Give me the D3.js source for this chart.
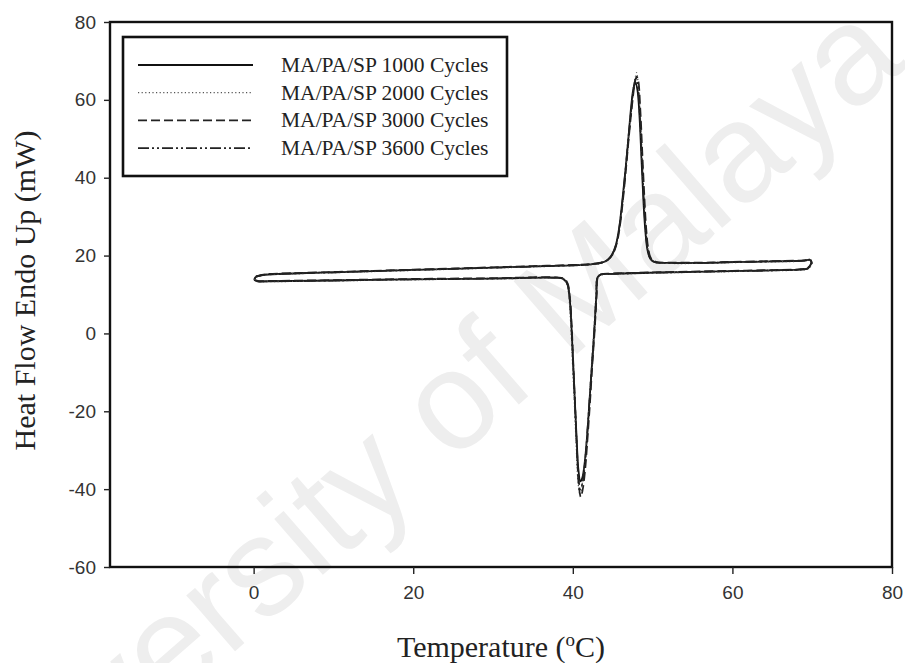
<!DOCTYPE html>
<html>
<head>
<meta charset="utf-8">
<script src="https://cdn.jsdelivr.net/npm/d3@7"></script>
<style>
  body { margin: 0; background: #fff; }
  svg { display: block; }
</style>
</head>
<body>
<svg id="chart" width="905" height="663"></svg>
<script>
// tick values
const xTicks = [0, 20, 40, 60, 80];
const yTicks = [-60, -40, -20, 0, 20, 40, 60, 80];

// series names
const seriesNames = [
  'MA/PA/SP 1000 Cycles',
  'MA/PA/SP 2000 Cycles',
  'MA/PA/SP 3000 Cycles',
  'MA/PA/SP 3600 Cycles'
];

// each loop: heating 0 -> 70 C, then cooling 70 -> 0 C  [temperature, heat flow mW]
const cycles1000 = [
  [0.3,14.6],[1.5,15.1],[5,15.4],[10,15.7],[15,16.0],[20,16.3],[25,16.6],[30,16.9],[35,17.2],[40,17.5],
  [42,17.7],[43.5,18.1],[44.3,18.8],[44.9,20.2],[45.4,22.8],[45.8,27],[46.2,34],[46.6,42],[47.0,51],
  [47.3,58],[47.6,63],[47.85,64.5],[48.1,62.5],[48.35,56],[48.6,45],[48.85,34],[49.1,26],[49.35,21.5],
  [49.7,19.2],[50.3,18.3],[52,18.1],[56,18.1],[60,18.3],[65,18.5],[69,18.7],[69.7,18.9],[69.9,18.2],
  [69.4,16.7],[68.5,16.4],[65,16.2],[60,16.0],[55,15.8],[50,15.6],[45,15.3],[43.5,15.1],[43.1,14.4],
  [42.95,10],[42.7,1],[42.4,-8],[42.1,-17],[41.8,-26],[41.5,-33],[41.2,-37],[40.95,-38],[40.7,-35],
  [40.5,-28],[40.25,-17],[40.0,-6],[39.8,3],[39.6,9],[39.3,12.8],[38.8,14.0],[38,14.3],[30,14.1],
  [20,13.9],[10,13.6],[2,13.4],[0.5,13.4],[0.1,13.8],[0.3,14.6]
];
const cycles2000 = [
  [0.3,14.5],[1.5,15.0],[5,15.3],[10,15.6],[15,15.9],[20,16.2],[25,16.5],[30,16.8],[35,17.1],[40,17.4],
  [42,17.6],[43.5,18.0],[44.3,18.7],[44.9,20.0],[45.4,22.5],[45.8,26.5],[46.2,33],[46.6,41],[47.0,50],
  [47.3,57],[47.6,63],[47.85,66],[48.0,67],[48.2,64],[48.45,56],[48.7,45],[48.95,34],[49.2,26],[49.45,21.3],
  [49.8,19.1],[50.4,18.2],[52,18.0],[56,18.0],[60,18.2],[65,18.4],[69,18.6],[69.8,18.9],[70.0,18.1],
  [69.5,16.6],[68.5,16.3],[65,16.1],[60,15.9],[55,15.7],[50,15.5],[45,15.2],[43.5,15.0],[43.05,14.2],
  [42.9,10],[42.65,1],[42.35,-8],[42.05,-18],[41.75,-27],[41.45,-34],[41.15,-39],[40.9,-41.5],[40.65,-38],
  [40.45,-30],[40.2,-18],[39.95,-7],[39.75,2],[39.55,8.5],[39.25,12.6],[38.8,13.9],[38,14.2],[30,14.0],
  [20,13.8],[10,13.5],[2,13.3],[0.5,13.3],[0.1,13.7],[0.3,14.5]
];
const cycles3000 = [
  [0.3,14.7],[1.5,15.2],[5,15.5],[10,15.8],[15,16.1],[20,16.4],[25,16.7],[30,17.0],[35,17.3],[40,17.6],
  [42,17.8],[43.5,18.2],[44.4,18.9],[45.0,20.3],[45.5,23],[45.9,27.5],[46.3,34.5],[46.7,43],[47.1,52],
  [47.45,59],[47.75,64],[48.0,66],[48.2,65],[48.45,58],[48.7,47],[48.95,36],[49.2,27],[49.45,22],
  [49.8,19.3],[50.4,18.4],[52,18.2],[56,18.2],[60,18.4],[65,18.6],[69,18.8],[69.7,19.0],[69.9,18.3],
  [69.4,16.8],[68.5,16.5],[65,16.3],[60,16.1],[55,15.9],[50,15.7],[45,15.4],[43.5,15.2],[43.15,14.5],
  [43.0,10],[42.75,1],[42.45,-8],[42.15,-18],[41.85,-27],[41.55,-35],[41.25,-40],[41.0,-42],[40.75,-39],
  [40.55,-31],[40.3,-19],[40.05,-7],[39.85,2.5],[39.65,9],[39.35,12.9],[38.9,14.1],[38,14.4],[30,14.2],
  [20,14.0],[10,13.7],[2,13.5],[0.5,13.5],[0.1,13.9],[0.3,14.7]
];
const cycles3600 = [
  [0.3,14.6],[1.5,15.1],[5,15.4],[10,15.7],[15,16.0],[20,16.3],[25,16.6],[30,16.9],[35,17.2],[40,17.5],
  [42,17.7],[43.5,18.1],[44.3,18.8],[44.9,20.1],[45.4,22.6],[45.8,26.8],[46.2,33.5],[46.6,42],[47.0,51],
  [47.35,58],[47.65,63.5],[47.9,65.5],[48.15,63.5],[48.4,56],[48.65,45],[48.9,34],[49.15,26],[49.4,21.4],
  [49.75,19.1],[50.3,18.3],[52,18.1],[56,18.1],[60,18.3],[65,18.5],[69,18.7],[69.75,18.9],[69.95,18.2],
  [69.45,16.7],[68.5,16.4],[65,16.2],[60,16.0],[55,15.8],[50,15.6],[45,15.3],[43.5,15.1],[43.1,14.4],
  [42.95,10],[42.7,1],[42.4,-8],[42.1,-17],[41.8,-26],[41.5,-34],[41.2,-38.5],[40.95,-40],[40.7,-37],
  [40.5,-29],[40.25,-17.5],[40.0,-6],[39.8,3],[39.6,9],[39.3,12.8],[38.8,14.0],[38,14.3],[30,14.1],
  [20,13.9],[10,13.6],[2,13.4],[0.5,13.4],[0.1,13.8],[0.3,14.6]
];

const allSeries = [cycles1000, cycles2000, cycles3000, cycles3600];
const lineStyles = [
  { dash: null, color: '#111', width: 1.8 },
  { dash: '1.2,2.4', color: '#555', width: 1.3 },
  { dash: '9,4', color: '#222', width: 1.7 },
  { dash: '11,3,2,3,2,3', color: '#222', width: 1.7 }
];

const svg = d3.select('#chart');

// watermark behind everything (cut off at the page edges like the original)
svg.append('text')
  .attr('transform', 'translate(409,451) rotate(-41)')
  .attr('text-anchor', 'middle')
  .attr('dominant-baseline', 'middle')
  .style('font-family', 'Liberation Sans, Arial, sans-serif')
  .style('font-size', '140px')
  .style('fill', '#eeeeee')
  .text('University of Malaya');

const margin = { top: 22, right: 13, bottom: 96, left: 110 };
const width = 905 - margin.left - margin.right;
const height = 663 - margin.top - margin.bottom;

const x = d3.scaleLinear().domain([-18, 80]).range([0, width]);
const y = d3.scaleLinear().domain([-60, 80]).range([height, 0]);

const g = svg.append('g').attr('transform', `translate(${margin.left},${margin.top})`);

// curves
const line = d3.line()
  .x(d => x(d[0]))
  .y(d => y(d[1]))
  .curve(d3.curveCatmullRom.alpha(0.5));

allSeries.forEach((s, i) => {
  g.append('path')
    .datum(s)
    .attr('fill', 'none')
    .attr('stroke', lineStyles[i].color)
    .attr('stroke-width', lineStyles[i].width)
    .attr('stroke-dasharray', lineStyles[i].dash)
    .attr('d', line);
});

// frame
g.append('rect')
  .attr('x', 0).attr('y', 0)
  .attr('width', width).attr('height', height)
  .attr('fill', 'none')
  .attr('stroke', '#111')
  .attr('stroke-width', 2.4);

// axes (plain hyphen for negatives, as in the original)
const fmt = d => String(d);
const xAxis = g.append('g')
  .attr('transform', `translate(0,${height})`)
  .call(d3.axisBottom(x).tickValues(xTicks).tickFormat(fmt).tickSize(7).tickPadding(12));
const yAxis = g.append('g')
  .call(d3.axisLeft(y).tickValues(yTicks).tickFormat(fmt).tickSize(6).tickPadding(8));

[xAxis, yAxis].forEach(a => {
  a.select('.domain').remove();
  a.selectAll('line').attr('stroke', '#222').attr('stroke-width', 1.4);
  a.selectAll('text')
    .style('font-family', 'Liberation Sans, Arial, sans-serif')
    .style('font-size', '19px')
    .style('fill', '#333');
});

// axis titles
svg.append('text')
  .attr('x', margin.left + width / 2)
  .attr('y', 657)
  .attr('text-anchor', 'middle')
  .style('font-family', 'Liberation Serif, Times New Roman, serif')
  .style('font-size', '30px')
  .style('fill', '#222')
  .html('Temperature (<tspan dy="-11" font-size="19px">o</tspan><tspan dy="11">C)</tspan>');

svg.append('text')
  .attr('transform', `translate(35,${margin.top + height / 2 - 4}) rotate(-90)`)
  .attr('text-anchor', 'middle')
  .style('font-family', 'Liberation Serif, Times New Roman, serif')
  .style('font-size', '30px')
  .style('fill', '#222')
  .text('Heat Flow Endo Up (mW)');

// legend
const legend = svg.append('g').attr('transform', 'translate(123,37)');
legend.append('rect')
  .attr('width', 384).attr('height', 139)
  .attr('fill', '#fff')
  .attr('stroke', '#111')
  .attr('stroke-width', 2.6);

seriesNames.forEach((name, i) => {
  const yy = 28 + i * 27.7;
  legend.append('line')
    .attr('x1', 15).attr('x2', 130)
    .attr('y1', yy).attr('y2', yy)
    .attr('stroke', lineStyles[i].color)
    .attr('stroke-width', lineStyles[i].width)
    .attr('stroke-dasharray', lineStyles[i].dash);
  legend.append('text')
    .attr('x', 158)
    .attr('y', yy + 7)
    .style('font-family', 'Liberation Serif, Times New Roman, serif')
    .style('font-size', '21.5px')
    .style('fill', '#222')
    .text(name);
});
</script>
</body>
</html>
